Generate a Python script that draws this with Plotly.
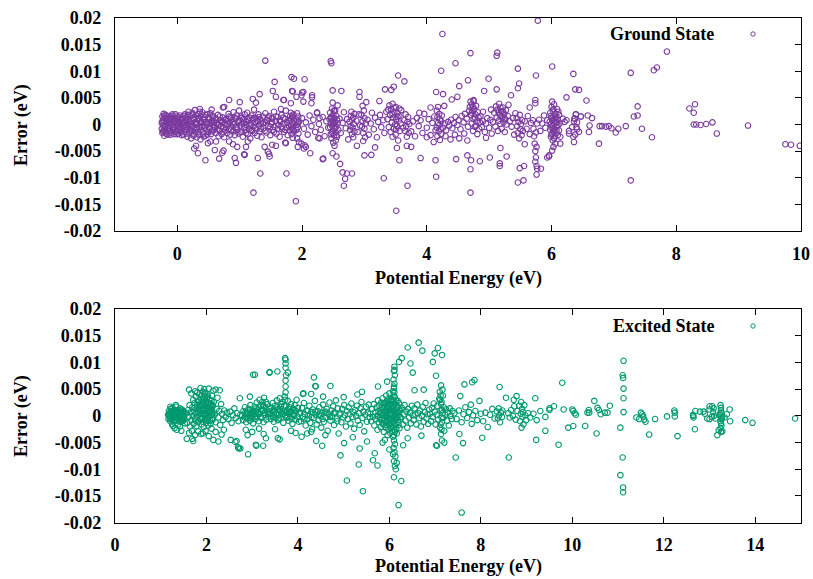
import plotly.graph_objects as go

# Each entry: (potential energy in eV, error in meV)

# ---------------- Ground state ----------------
ground_low_band = [
    (-0.25, 0.3), (-0.25, -0.8), (-0.24, 1.5), (-0.24, -1.6), (-0.23, 0.9), (-0.23, -0.2), (-0.22, 2.0),
    (-0.22, -1.1), (-0.21, 0.5), (-0.21, -2.1), (-0.2, 1.2), (-0.2, -0.5), (-0.19, 1.8), (-0.19, -1.4),
    (-0.18, 0.1), (-0.17, -0.9), (-0.17, 1.0), (-0.16, -1.9), (-0.15, 0.6), (-0.15, -0.3), (-0.14, 1.6),
    (-0.13, -1.2), (-0.12, 0.2), (-0.12, -0.7), (-0.11, 1.3), (-0.1, -1.6), (-0.09, 0.8), (-0.08, -0.1),
    (-0.08, 1.9), (-0.07, -1.0), (-0.06, 0.4), (-0.05, -1.8), (-0.05, 1.1), (-0.04, -0.5), (-0.03, 0.7),
    (-0.02, -1.3), (-0.01, 1.5), (0.0, 0.0), (0.0, -0.9), (0.01, 1.0), (0.02, -1.7), (0.03, 0.3),
    (0.04, -0.4), (0.04, 1.7), (0.05, -1.1), (0.06, 0.9), (0.07, -2.0), (0.08, 0.1), (0.08, 1.3),
    (0.09, -0.7), (0.1, 0.5), (0.11, -1.4), (0.12, 1.9), (0.12, -0.2), (0.13, 0.8), (0.14, -1.0),
    (0.15, 1.4), (0.16, -2.3), (0.16, 0.2), (0.17, -0.6), (0.18, 2.4), (0.18, 1.0), (0.19, -1.5),
    (0.2, 0.0), (0.21, 1.6), (0.21, -0.9), (0.22, -2.6), (0.23, 0.6), (0.24, 2.2), (0.24, -1.2),
    (0.25, -0.3), (0.26, 1.2), (0.27, -1.9), (0.28, 0.4), (0.28, 2.7), (0.29, -0.8), (0.3, 1.7),
    (0.31, -2.4), (0.32, 0.1), (0.33, 1.0), (0.33, -1.4), (0.34, 2.0), (0.35, -0.5), (0.36, 0.7),
    (0.37, -2.8), (0.37, 1.5), (0.38, -1.0), (0.39, 0.3), (0.4, 2.3), (0.41, -1.7), (0.42, 0.9),
    (0.43, -0.2), (0.44, 1.4), (0.45, -2.1), (0.46, 0.5), (0.47, -0.9), (0.48, 1.9), (0.49, -1.4),
    (0.5, 0.2), (0.51, 1.1), (0.52, -0.6), (0.53, 2.1), (0.54, -1.8), (0.55, 0.7), (0.56, -0.1),
    (0.57, 1.5), (0.58, -1.1), (0.59, 0.4),
    (0.6, -0.4), (0.61, 1.2), (0.62, -1.6), (0.63, 0.3), (0.64, -0.9), (0.65, 1.8), (0.66, -2.2),
    (0.67, 0.0), (0.68, -1.2), (0.69, 0.8), (0.7, -0.3), (0.71, -1.8), (0.72, 0.5), (0.73, 1.3),
    (0.74, -0.7), (0.75, -2.4), (0.76, 0.2), (0.77, -1.1), (0.78, 1.0), (0.79, -0.1), (0.8, -1.6),
    (0.81, 0.6), (0.82, 2.0), (0.83, -0.8), (0.84, 0.3), (0.85, -1.9), (0.86, 1.4), (0.87, -0.4),
    (0.88, 0.9), (0.89, -1.3), (0.9, 2.3), (0.91, 0.1), (0.92, -2.0), (0.93, 1.1), (0.94, -0.6),
    (0.95, 1.7), (0.96, -1.0), (0.97, 0.4), (0.98, -1.7), (0.99, 2.6), (1.0, 0.8), (1.01, -0.2),
    (1.02, 1.5), (1.03, -1.4), (1.04, 0.2), (1.05, -2.3), (1.06, 1.0), (1.07, -0.5), (1.08, 1.9),
    (1.09, -1.1), (1.1, 0.5), (1.11, -0.1), (1.12, 2.2), (1.13, -1.8), (1.14, 0.7), (1.15, -0.8),
    (1.16, 1.3), (1.17, -2.6), (1.18, 0.0), (1.19, 1.7), (1.2, -1.2), (1.21, 0.9), (1.22, -0.4),
    (1.23, 2.8), (1.24, -1.6), (1.25, 0.4), (1.26, 1.2), (1.27, -0.9), (1.28, -2.1), (1.29, 0.6),
    (1.3, 1.9), (1.31, -0.2), (1.32, -1.3), (1.33, 1.0), (1.34, 0.2), (1.35, -2.4), (1.37, 1.5),
    (1.38, -0.7), (1.4, 0.4), (1.41, 2.1), (1.43, -1.5), (1.44, 0.9), (1.46, -0.3), (1.47, 1.6),
    (1.49, -2.0), (1.5, 0.1), (1.52, 1.2), (1.53, -1.0), (1.55, 2.4), (1.56, -0.5), (1.58, 0.7),
    (1.59, -1.7), (1.61, 1.4), (1.62, -0.1), (1.64, -2.3), (1.65, 0.5), (1.67, 1.8), (1.68, -0.9),
    (1.7, 0.2), (1.71, -1.4), (1.73, 1.0), (1.74, 2.6), (1.76, -0.6), (1.77, -2.0), (1.79, 0.8),
    (1.8, -1.1), (1.81, 1.6), (1.82, -0.2), (1.82, 2.2), (1.83, -1.8), (1.84, 0.4), (1.84, -0.8),
    (1.85, 1.2), (1.85, -2.5), (1.86, 0.0), (1.86, 1.9), (1.87, -1.3), (1.87, 0.7), (1.91, 0.9),
    (1.91, -1.0), (1.92, 2.1), (1.92, -2.6), (1.93, 0.2), (1.93, -0.5), (1.94, 1.5), (1.94, -1.7),
    (1.95, -3.3), (1.95, 0.6),
]

ground_dense_core = [
    (-0.24, 0.6), (-0.23, -1.3), (-0.21, 1.6), (-0.2, -0.2), (-0.18, -1.7), (-0.17, 0.4), (-0.16, 1.3),
    (-0.14, -0.6), (-0.13, 0.9), (-0.11, -1.9), (-0.1, 0.1), (-0.09, 1.6), (-0.07, -0.4), (-0.06, 1.2),
    (-0.04, -1.4), (-0.03, 1.9), (-0.02, 0.2), (0.0, -1.8), (0.01, 0.6), (0.02, 1.4), (0.03, -0.7),
    (0.05, 0.0), (0.06, -1.5), (0.07, 1.1), (0.09, 0.3), (0.1, -1.9), (0.11, 1.6), (0.13, -0.4),
    (0.14, 0.9), (0.15, -1.7), (0.17, 1.8), (0.19, 0.6), (0.2, -1.1), (0.22, 0.2), (0.23, -0.5),
    (0.25, 1.9), (0.26, -2.1), (0.27, 0.9), (0.29, -1.5), (0.3, 0.0), (0.32, -0.7), (0.34, 1.2),
    (0.35, -1.9), (0.36, 2.4), (0.38, 0.5), (0.39, -0.4), (0.41, 1.0), (0.42, -2.3), (0.44, -0.6),
    (0.45, 1.8), (0.47, 0.1), (0.48, -1.9), (0.5, 1.3), (0.51, -0.8), (0.53, 0.4), (0.55, -1.3),
    (0.56, 1.6), (0.58, 0.7), (0.59, -0.6),
    (0.62, 0.9), (0.65, -0.1), (0.68, 1.5), (0.71, 0.3), (0.74, -1.4), (0.77, 0.8), (0.8, 0.2),
    (0.83, 1.5), (0.86, -1.0), (0.89, 0.4), (0.92, 1.3), (0.95, -0.4), (0.98, 0.6), (1.01, -1.5),
    (1.04, 1.3), (1.07, 0.2), (1.1, -1.6), (1.13, 1.0), (1.16, -0.2), (1.19, -1.0), (1.22, 1.2),
    (1.25, -0.6), (1.28, 0.8), (1.31, 1.4), (1.34, -0.8), (1.37, 0.2), (1.4, -1.2), (1.43, 0.8),
    (1.46, 1.3), (1.49, -0.5), (1.52, 0.5), (1.55, -1.4), (1.58, 1.5), (1.61, -0.8), (1.64, 0.7),
    (1.67, -0.4), (1.7, 1.3), (1.73, -1.0), (1.76, 0.4), (1.79, -0.3), (1.82, 0.9), (1.84, 1.5),
    (1.86, -1.0), (1.92, -0.1), (1.94, 0.4),
    (2.46, 1.3), (2.48, -1.5), (2.5, 0.4), (2.51, 2.6), (2.53, -0.6), (2.55, -2.0), (3.45, 1.9),
    (3.48, 3.1), (3.51, -0.9), (3.53, 1.4), (3.56, 3.0), (4.72, 2.2), (4.74, 3.3), (4.77, 1.3),
    (4.79, -0.2), (5.15, 2.3), (5.18, 3.2), (5.2, 1.6), (5.22, 2.4), (5.24, 0.9), (5.99, 1.6),
    (6.0, -1.9), (6.02, 0.9), (6.03, 2.9), (6.05, -2.2), (6.06, 1.3), (6.08, -1.1), (6.09, 0.4),
    (6.11, 2.4), (6.03, -0.8),
]

ground_streaks = [
    (2.44, 1.0), (2.45, -0.5), (2.45, 2.2), (2.46, -1.8), (2.46, 0.3), (2.47, 1.5), (2.47, -2.6),
    (2.48, -0.2), (2.48, 3.0), (2.49, 0.8), (2.49, -1.2), (2.5, 1.9), (2.5, -3.4), (2.51, 0.0),
    (2.51, -2.0), (2.52, 1.2), (2.52, -0.8), (2.53, 2.6), (2.53, 0.4), (2.54, -1.5), (2.54, -3.0),
    (2.55, 1.6), (2.55, -0.4), (2.56, 0.9), (2.56, -2.3), (2.57, 0.2), (2.57, 3.6), (2.52, -4.0),
    (2.49, 4.1), (2.58, -1.0),
    (2.76, 0.5), (2.77, -1.0), (2.78, 1.6), (2.78, -0.3), (2.79, 2.4), (2.8, -1.8), (2.8, 0.9),
    (2.81, -0.6), (2.82, 1.3), (2.82, -2.4), (2.83, 0.1), (2.84, 2.0), (2.84, -1.3),
    (2.95, 1.8), (2.96, -0.4), (2.97, 3.5), (2.97, 0.6), (2.98, -1.6), (2.99, 2.6), (3.0, -0.8),
    (3.0, 1.2), (3.01, -2.4), (3.02, 0.2), (3.03, 4.2), (2.98, -3.1),
    (3.37, 1.0), (3.38, 2.8), (3.39, -0.5), (3.4, 3.6), (3.41, 1.8), (3.42, -1.4), (3.43, 2.9),
    (3.44, 0.4), (3.45, 3.9), (3.45, -2.3), (3.46, 1.3), (3.47, -0.8), (3.48, 2.4), (3.49, 0.0),
    (3.5, 3.3), (3.5, -1.9), (3.51, 1.0), (3.52, -0.3), (3.53, 2.1), (3.54, -3.0), (3.55, 0.7),
    (3.56, 1.6), (3.57, -1.2), (3.58, 0.2), (3.59, 2.7), (3.52, -4.4),
    (3.64, 0.8), (3.65, -1.2), (3.66, 1.9), (3.67, -0.3), (3.68, -2.3), (3.69, 0.5), (3.7, 1.4),
    (3.71, -1.6), (3.72, 0.1),
    (4.16, 2.6), (4.16, -0.6), (4.17, 1.4), (4.17, -2.2), (4.18, 0.3), (4.18, 3.3), (4.19, -1.3),
    (4.2, 2.0), (4.2, -0.1), (4.21, -2.9), (4.21, 1.0), (4.22, -0.8), (4.23, 0.6), (4.23, -1.8),
    (4.24, 1.7),
    (4.26, -0.6), (4.29, 0.2), (4.31, -1.1), (4.34, 0.5), (4.36, -0.2), (4.39, 0.9), (4.41, -0.7),
    (4.44, 0.3), (4.46, 1.4), (4.49, -0.1), (4.51, 0.8), (4.54, -0.9), (4.56, 1.6), (4.59, 0.4),
    (4.61, 2.0), (4.64, 1.1), (4.66, -0.4), (4.68, 2.6),
    (4.69, 3.3), (4.7, 4.3), (4.71, 1.8), (4.72, 3.8), (4.72, 0.2), (4.73, 2.6), (4.74, -1.2),
    (4.75, 4.6), (4.75, 1.0), (4.76, 2.9), (4.77, -0.4), (4.78, 1.9), (4.79, 3.5), (4.8, 0.6),
    (4.81, -1.8), (4.82, 2.3), (4.83, 1.3), (4.84, -0.8), (4.85, 0.4), (4.86, 1.6),
    (4.88, -0.5), (4.9, 0.6), (4.93, -1.4), (4.95, 0.2), (4.97, 1.2), (5.0, -0.6), (5.02, 0.9),
    (5.04, -1.7),
    (5.06, 0.5), (5.08, 2.2), (5.1, -0.4), (5.11, 3.4), (5.12, 1.3), (5.13, 2.8), (5.14, -1.2),
    (5.15, 0.7), (5.16, 3.9), (5.17, 1.8), (5.18, 0.1), (5.19, 2.5), (5.2, -0.8), (5.21, 1.2),
    (5.22, 3.2), (5.23, 0.4), (5.24, 2.0), (5.25, -1.4), (5.26, 1.0), (5.27, 2.7), (5.28, 0.0),
    (5.3, 1.6), (5.31, 3.7), (5.33, 0.6),
    (5.44, 1.2), (5.45, -0.3), (5.46, -1.6), (5.47, 0.5), (5.48, -2.6), (5.49, 1.8), (5.5, -0.9),
    (5.51, 0.1), (5.52, -2.0), (5.53, 0.8), (5.54, -1.2),
    (5.7, 0.8), (5.71, -0.8), (5.72, -2.2), (5.73, -3.6), (5.74, -5.0), (5.75, -6.2), (5.75, -1.5),
    (5.76, -4.2), (5.77, 0.2), (5.74, -7.0), (5.76, -7.8),
    (5.97, 0.5), (5.98, -1.0), (5.98, 2.2), (5.99, -2.3), (5.99, 0.0), (6.0, 3.3), (6.0, 1.2),
    (6.0, -0.6), (6.01, 4.3), (6.01, -1.7), (6.01, 0.7), (6.02, 2.6), (6.02, -3.0), (6.02, -0.2),
    (6.03, 1.6), (6.03, -1.3), (6.04, 3.8), (6.04, 0.3), (6.04, -2.6), (6.05, 1.0), (6.05, -0.9),
    (6.06, 2.0), (6.06, -3.6), (6.07, 0.5), (6.07, -1.6), (6.08, 1.4), (6.08, -0.4), (6.09, 2.9),
    (6.1, -2.0), (6.1, 0.9), (6.11, -0.1), (6.12, 1.8), (6.12, -1.1), (6.13, 0.2),
    (5.83, -8.3), (5.93, -6.2), (5.96, -5.8), (6.01, -4.9), (6.03, -4.2), (6.14, -2.3), (6.14, -3.6),
    (6.18, 1.1), (6.21, 0.5), (6.24, 0.8), (6.28, -1.2), (6.28, -1.7), (6.35, -2.3), (6.36, -3.3),
    (6.37, 1.1), (6.39, 1.9), (6.4, -0.5), (6.41, 0.4), (6.44, -1.4), (6.47, 1.5), (6.33, -0.5),
    (6.36, 0.6), (6.41, -0.9), (6.38, -1.9),
]

ground_scatter = [
    (2.0, 1.2), (2.03, -0.8), (2.06, 0.4), (2.09, -1.9), (2.12, 1.7), (2.15, -0.3), (2.18, 0.9),
    (2.21, -1.4), (2.24, 2.1), (2.27, 0.1), (2.3, -1.0), (2.33, 1.4), (2.36, -2.2), (2.39, 0.6),
    (2.42, -0.6), (2.6, 1.1), (2.62, -1.6), (2.65, 0.3), (2.67, 2.3), (2.7, -0.7), (2.72, 1.0),
    (2.74, -2.8), (2.87, 0.7), (2.89, -1.4), (2.91, 1.9), (2.93, -0.2), (3.05, 0.9), (3.07, -1.9),
    (3.1, 0.2), (3.12, 2.2), (3.15, -0.9), (3.17, 1.3), (3.2, -2.4), (3.22, 0.5), (3.25, 1.8),
    (3.27, -0.5), (3.3, 0.8), (3.32, -1.6), (3.35, 2.4), (3.62, -0.6), (3.75, -1.3), (3.78, 0.6),
    (3.81, -2.2), (3.84, 1.2), (3.87, -0.3), (3.9, 0.8), (3.93, -1.6), (3.96, 2.0), (4.0, -0.6),
    (4.03, 1.0), (4.06, -2.0), (4.09, 0.3), (4.12, 1.5), (4.14, -1.1), (4.3, -2.2), (4.38, -2.8),
    (4.45, -1.9), (4.52, -2.6), (4.6, -1.7), (4.65, -3.0), (4.9, 2.4), (4.95, -2.5), (5.03, 2.8),
    (5.36, -0.4), (5.38, 1.2), (5.4, -1.9), (5.42, 2.1), (5.57, 0.6), (5.6, -0.8), (5.62, 1.6),
    (5.65, -1.8), (5.67, 0.3), (5.8, 0.9), (5.82, -1.2), (5.85, 0.2), (5.88, 1.7), (5.9, -0.6),
    (5.93, 0.8),
]

ground_outliers = [
    (1.41, 12.0), (0.83, 4.6), (1.0, 4.2), (1.21, 4.8), (1.32, 5.7), (1.26, 4.1), (1.53, 6.3),
    (1.56, 8.0), (1.58, 5.2), (1.71, 4.6), (1.83, 8.9), (1.87, 8.6), (1.85, 6.2), (0.73, 3.2),
    (0.55, 2.8), (0.36, 2.9), (0.75, 3.3), (1.66, 2.9), (1.82, 4.0),
    (0.3, -4.0), (0.33, -5.4), (0.45, -6.7), (0.27, -4.5), (0.67, -6.4), (0.72, -5.3), (0.92, -6.3),
    (0.94, -7.2), (1.08, -5.7), (1.33, -9.2), (1.22, -12.8), (1.75, -9.2), (1.9, -14.4), (1.29, -6.3),
    (1.47, -5.5), (1.48, -6.0), (1.58, -4.0), (1.73, -3.4), (0.53, -3.2), (0.89, -3.7), (1.1, -4.2),
    (0.49, -3.5), (0.6, -4.8), (0.62, -3.2), (0.83, -3.2), (0.96, -4.2), (1.13, -3.2), (1.4, -4.2),
    (1.52, -3.8), (1.45, -5.1), (1.07, -5.6), (0.74, -4.9), (1.93, -4.2), (1.99, -3.6), (2.06, -4.2),
    (5.78, 19.5), (4.25, 17.0), (4.7, 13.4), (5.13, 13.5), (5.12, 12.9), (4.46, 11.5), (2.46, 11.9),
    (2.47, 11.5), (4.23, 10.1), (5.46, 10.5), (5.75, 9.2), (3.54, 9.2), (2.04, 8.5), (3.64, 8.1),
    (4.66, 8.3), (4.99, 8.6), (5.48, 7.7), (5.46, 6.8), (4.52, 7.2), (3.47, 7.1), (3.33, 6.6),
    (3.43, 6.5), (2.49, 6.4), (2.63, 6.3), (2.92, 6.1), (4.15, 6.1), (4.26, 5.7), (4.92, 6.3),
    (5.12, 6.6), (1.84, 6.3), (2.02, 6.1), (2.16, 5.5), (2.16, 5.1), (1.7, 4.6), (1.91, 5.2),
    (2.92, 5.2), (3.24, 4.4), (4.4, 4.7), (4.49, 5.2), (5.35, 5.5), (5.65, 3.2), (5.74, 4.6),
    (5.74, 4.0), (4.75, 4.4), (3.88, 2.2), (4.06, 3.2), (4.28, 3.5), (2.0, 6.0), (1.99, 5.5),
    (2.02, 4.3), (2.15, 4.0), (2.24, 2.3), (2.28, 1.2),
    (3.51, -16.2), (4.7, -12.8), (3.69, -11.5), (4.15, -9.8), (2.67, -11.5), (2.69, -10.2),
    (2.65, -9.0), (2.72, -9.2), (2.8, -9.2), (5.46, -10.9), (5.55, -10.5), (5.76, -9.4), (5.77, -8.3),
    (5.49, -8.2), (5.56, -7.8), (4.7, -8.4), (5.17, -7.8), (5.17, -7.3), (5.28, -6.0), (4.65, -5.8),
    (4.71, -6.7), (4.85, -6.9), (5.01, -6.2), (4.47, -6.5), (4.14, -6.7), (3.9, -6.3), (3.31, -10.1),
    (3.11, -5.7), (3.0, -5.8), (3.56, -6.7), (2.55, -6.0), (2.34, -6.4), (2.61, -7.4), (2.13, -5.4),
    (5.96, -6.0), (5.18, -4.4), (5.57, -3.7), (3.75, -4.2), (3.68, -4.0), (3.17, -4.3), (2.88, -4.0),
    (4.0, -2.4), (4.11, -3.3), (2.26, -2.5), (1.74, -3.5), (2.03, -4.5), (2.04, -3.9), (2.33, -6.5),
    (2.49, -5.4), (2.28, -2.6),
    (7.85, 13.7), (7.69, 10.7), (7.64, 10.2), (7.27, 9.7), (6.01, 10.9), (6.35, 9.5), (6.38, 6.6),
    (6.44, 6.5), (6.24, 5.1), (6.56, 4.5), (7.38, 3.4), (8.21, 3.0), (8.3, 3.8), (8.28, 2.2),
    (7.32, 1.5), (7.38, 1.7), (6.39, 1.9), (6.47, 1.5), (6.58, 1.7), (6.65, 1.2), (6.37, 1.1),
    (6.61, -0.2), (6.77, -0.3), (6.81, -0.3), (6.87, -0.4), (6.92, -0.3), (6.96, -0.7), (7.07, -0.8),
    (7.03, -1.5), (7.19, -0.3), (7.45, -0.8), (6.6, -1.4), (7.61, -2.4), (6.76, -3.6), (7.27, -10.5),
    (8.28, 0.0), (8.32, 0.0), (8.39, -0.1), (8.48, 0.1), (8.58, 0.4), (8.65, -1.7), (9.15, -0.2),
    (9.75, -3.7), (9.84, -3.8), (9.98, -4.0),
]

# ---------------- Excited state ----------------
excited_low_band = [
    (1.16, 0.2), (1.17, -0.6), (1.18, 0.9), (1.19, -0.1), (1.2, 0.5), (1.21, -1.0), (1.22, 1.3),
    (1.23, 0.0), (1.24, -0.5), (1.25, 0.8), (1.26, 1.5), (1.27, -0.3), (1.28, 0.4), (1.29, -1.2),
    (1.3, 1.0), (1.31, -0.1), (1.32, 0.6), (1.33, -0.8), (1.34, 1.7), (1.35, 0.2), (1.36, -0.4),
    (1.37, 1.1), (1.38, -1.6), (1.39, 0.3), (1.4, 0.8), (1.41, -0.6), (1.42, 1.4), (1.43, 0.0),
    (1.44, -1.1), (1.45, 0.6), (1.46, 1.2), (1.47, -0.3), (1.48, 0.3), (1.49, -0.9), (1.5, 0.9),
    (1.51, -0.1), (1.52, 0.5), (1.53, -1.4), (1.3, -2.3), (1.27, -1.9), (1.35, -2.6), (1.42, -2.0),
    (1.45, -2.8), (1.25, -1.6), (1.21, 1.7), (1.33, 2.0),
    (1.57, 0.5), (1.58, -1.3), (1.6, 1.1), (1.61, -0.2), (1.63, 2.0), (1.64, -2.0), (1.66, 0.7),
    (1.67, -0.8), (1.69, 1.6), (1.7, 0.0), (1.71, 3.0), (1.72, -1.5), (1.73, 1.0), (1.74, 2.4),
    (1.75, -0.5), (1.76, 0.4), (1.77, 3.6), (1.78, -1.9), (1.79, 1.5), (1.8, -0.2), (1.81, 2.7),
    (1.82, 0.8), (1.83, -1.1), (1.84, 4.0), (1.85, 1.9), (1.86, -0.6), (1.87, 0.3), (1.88, 3.2),
    (1.89, -1.6), (1.9, 2.2), (1.9, 1.0), (1.91, -0.3), (1.92, 4.5), (1.92, 0.5), (1.93, 2.9),
    (1.94, -2.1), (1.95, 1.4), (1.96, -0.8), (1.97, 3.7), (1.97, 0.1), (1.98, 2.0), (1.99, -1.3),
    (2.0, 1.2), (2.01, 3.3), (2.01, -0.4), (2.02, 0.7), (2.03, 2.5), (2.04, -1.8), (2.05, 1.6),
    (2.06, 0.0), (2.07, 3.0), (2.08, -0.9), (2.09, 1.0), (2.1, 2.1), (2.11, -2.4), (2.12, 0.4),
    (2.13, 1.7), (2.14, -0.5), (2.16, 2.6), (2.18, 0.2), (2.2, -1.2), (2.22, 1.3), (2.24, 3.4),
    (2.26, -0.3), (2.28, 0.9), (2.3, -1.7), (2.32, 2.2), (2.34, 0.4), (2.36, -0.8), (2.39, 1.0),
    (2.42, -0.2), (2.45, 0.6),
    (1.62, 4.9), (1.67, 4.2), (1.75, 4.6), (1.87, 5.2), (1.95, 5.0), (2.05, 5.1), (2.15, 4.7),
    (2.2, 4.9), (2.29, 4.8), (2.12, 3.8), (1.8, 4.4),
    (1.62, -3.2), (1.68, -2.8), (1.71, -4.7), (1.57, -4.3), (1.75, -3.6), (1.82, -2.9), (1.88, -3.4),
    (1.98, -2.8), (2.05, -3.8), (2.15, -4.5), (2.2, -3.0), (2.26, -4.8), (2.33, -3.5), (2.38, -2.6),
    (1.69, -4.3), (1.92, -3.3),
    (2.48, -0.6), (2.52, 0.8), (2.55, -1.3), (2.58, 0.1), (2.61, 1.4), (2.64, -0.4), (2.67, 0.5),
    (2.7, -1.0), (2.73, 3.3), (2.74, 0.2),
    (2.53, -4.5), (2.66, -4.7), (2.63, -4.9), (2.71, -6.1), (2.74, -6.1), (2.69, -5.9), (2.91, -7.2),
    (2.95, 3.6),
]

excited_dense_core = [
    (1.18, 0.4), (1.2, -0.4), (1.22, 0.7), (1.24, 0.3), (1.26, -0.8), (1.28, 1.1), (1.3, 0.2),
    (1.32, -0.4), (1.34, 0.9), (1.36, 0.6), (1.38, 0.0), (1.4, -0.9), (1.42, 0.4), (1.44, 1.0),
    (1.46, -0.6), (1.48, 0.8), (1.5, 0.2), (1.52, -0.6),
    (1.74, 1.5), (1.76, -0.9), (1.78, 0.6), (1.8, 2.0), (1.81, -1.2), (1.83, 1.2), (1.84, 2.9),
    (1.86, 0.4), (1.87, 1.8), (1.88, -0.6), (1.89, 2.6), (1.91, 1.3), (1.92, -1.1), (1.93, 2.2),
    (1.94, 0.3), (1.95, 3.3), (1.96, 1.0), (1.98, -0.4), (1.99, 2.5), (2.0, 0.3), (2.01, 1.8),
    (2.02, -0.9), (2.03, 3.6), (2.04, 1.1), (2.05, -0.3), (2.06, 2.4), (2.07, 0.7), (2.08, 1.6),
    (2.09, -1.4), (2.1, 0.2), (2.11, 2.8), (2.12, 1.2), (2.13, -0.8), (2.14, 2.0), (2.15, 0.5),
    (1.9, 3.9), (1.97, 4.3), (2.02, 4.0),
    (2.85, 0.6), (2.88, -0.3), (2.91, 0.4), (2.94, 1.0), (2.97, -0.4), (3.0, 0.3), (3.03, 0.8),
    (3.06, -0.2), (3.09, 1.4), (3.12, 0.5), (3.15, 1.7), (3.18, -0.2), (3.21, 1.2), (3.24, 2.0),
    (3.27, 0.6), (3.3, 2.6), (3.33, 1.0), (3.36, 0.4),
    (3.43, 0.9), (3.46, -0.3), (3.49, 1.2), (3.52, 0.2), (3.55, 1.6), (3.58, -0.5), (3.61, 1.0),
    (3.64, 2.2), (3.67, 0.4), (3.7, 1.9), (3.72, 3.0), (3.74, 0.6), (3.77, -0.2), (3.8, 1.3),
    (3.83, 0.8), (3.86, -0.6), (3.89, 0.3), (3.92, 1.1),
    (4.14, -0.6), (4.22, 0.9), (4.3, -0.2), (4.38, 0.8), (4.46, 0.3), (4.54, -0.6), (4.62, 0.6),
    (4.7, -0.2), (4.78, 0.5), (4.86, -1.0),
    (5.8, -0.7), (5.82, 0.6), (5.84, 1.7), (5.85, -1.4), (5.87, 0.3), (5.88, 2.4), (5.89, -0.9),
    (5.91, 1.6), (5.92, 0.1), (5.93, -1.7), (5.94, 2.7), (5.95, 0.5), (5.96, -0.9), (5.97, 1.4),
    (5.98, 3.2), (5.99, -1.6), (6.0, 1.0), (6.01, -0.6), (6.02, 2.8), (6.03, -2.3), (6.04, 1.3),
    (6.05, 0.4), (6.06, -1.3), (6.07, 1.9), (6.08, -0.3), (6.09, 3.0), (6.1, -1.8), (6.11, 0.8),
    (6.12, 2.3), (6.13, -0.5), (6.14, 0.3), (6.15, -2.4), (6.16, 1.6), (6.17, -0.4), (6.18, 2.8),
    (6.19, 0.6), (6.2, -1.7), (6.22, 1.2), (6.24, -0.2), (6.09, 3.8), (6.11, 4.4), (6.12, -3.0),
    (6.1, -3.6), (6.06, -2.8),
    (7.11, 3.0), (7.12, -1.6), (7.13, 2.2), (7.14, -2.6), (7.15, 1.1), (7.16, 4.9), (7.14, -0.3),
    (7.12, 3.8),
]

excited_mid_band = [
    (2.78, 0.0), (2.8, -0.8), (2.81, 0.9), (2.83, -0.3), (2.84, 1.6), (2.86, 0.3), (2.87, -1.2),
    (2.89, 0.7), (2.9, -0.5), (2.92, 1.3), (2.93, 0.1), (2.95, -0.9), (2.96, 2.0), (2.98, 0.5),
    (2.99, -0.2), (3.01, 1.0), (3.02, -1.4), (3.04, 0.2), (3.05, 1.7), (3.07, -0.6), (3.08, 0.8),
    (3.1, 2.5), (3.11, -0.1), (3.13, 1.2), (3.14, -1.0), (3.16, 3.0), (3.17, 0.4), (3.19, 1.9),
    (3.2, -0.4), (3.22, 2.6), (3.23, 0.9), (3.25, -1.2), (3.26, 3.4), (3.28, 0.2), (3.29, 1.5),
    (3.31, -0.7), (3.32, 2.2), (3.34, 0.6), (3.35, -0.2), (3.37, 1.3),
    (3.09, -5.6), (3.08, -5.4), (3.24, -5.6), (3.3, -4.2), (2.86, -2.6), (3.0, -3.0), (3.15, -2.4),
    (3.25, -3.4), (2.9, -3.6), (3.02, 7.7), (3.06, 7.7), (3.38, 8.1), (3.38, 8.2),
    (3.39, 0.4), (3.41, -0.6), (3.42, 1.5), (3.44, 0.0), (3.45, 2.4), (3.47, -1.1), (3.48, 0.8),
    (3.5, 1.9), (3.51, -0.3), (3.53, 0.5), (3.54, 2.9), (3.56, -0.8), (3.57, 1.2), (3.59, 0.2),
    (3.6, 3.3), (3.62, -0.5), (3.63, 1.7), (3.65, 0.6), (3.66, 2.6), (3.68, -1.3), (3.69, 0.9),
    (3.71, 3.6), (3.72, 0.1), (3.73, 4.4), (3.73, 5.5), (3.73, 6.6), (3.74, 1.8), (3.74, 7.6),
    (3.73, 9.0), (3.73, 9.8), (3.73, 10.5), (3.72, 10.8), (3.75, -0.4), (3.76, 1.1), (3.78, 2.8),
    (3.79, -0.9), (3.81, 0.5), (3.82, 1.6), (3.84, -0.2), (3.85, 2.2), (3.87, 0.8), (3.88, -1.5),
    (3.9, 1.3), (3.91, 0.0), (3.93, 2.0), (3.94, -0.7), (3.96, 0.9), (3.97, 3.0), (3.99, -0.1),
    (4.0, 1.5), (4.02, -1.1), (4.03, 0.4), (3.55, 8.3), (3.78, 8.1), (3.56, -4.2), (3.6, -4.4),
    (3.5, -2.5), (3.85, -2.8), (3.95, -3.2),
    (4.05, 0.6), (4.07, -1.0), (4.09, 1.5), (4.11, -0.2), (4.13, 2.4), (4.15, 0.3), (4.17, -1.8),
    (4.19, 1.0), (4.21, -0.6), (4.23, 0.1), (4.25, 1.9), (4.27, -1.3), (4.29, 0.7), (4.31, -2.5),
    (4.33, 1.2), (4.35, -0.4), (4.37, 2.8), (4.39, 0.2), (4.41, -1.6), (4.43, 0.9), (4.45, -0.8),
    (4.47, 1.6), (4.49, 0.0), (4.51, -2.2), (4.53, 0.5), (4.55, 2.1), (4.57, -1.1), (4.59, 0.8),
    (4.61, -0.3), (4.63, 1.3), (4.65, -2.8), (4.67, 0.3), (4.69, 2.5), (4.71, -0.9), (4.73, 1.0),
    (4.75, -0.1), (4.77, 1.8), (4.79, -1.7), (4.81, 0.6), (4.83, 2.9), (4.85, -0.5), (4.87, 1.4),
    (4.89, -3.3), (4.91, 0.2),
    (4.12, 4.2), (4.29, 4.1), (4.35, 7.2), (4.38, 5.6), (4.71, 5.6), (4.39, 5.5), (4.11, 4.1),
    (4.55, 3.6), (4.08, -3.9), (4.4, -4.7), (4.53, -5.6), (4.29, -3.0), (4.93, -7.4), (4.6, -3.6),
    (4.2, -3.3),
    (4.93, 0.5), (4.95, -1.2), (4.97, 1.3), (4.99, -0.3), (5.01, 2.0), (5.03, 0.1), (5.05, -2.0),
    (5.07, 0.9), (5.09, -0.6), (5.11, 1.6), (5.13, 0.3), (5.15, -1.4), (5.17, 2.3), (5.19, -0.2),
    (5.21, 0.7), (5.23, -2.4), (5.25, 1.1), (5.27, 0.0), (5.29, 1.9), (5.31, -0.9), (5.33, 0.5),
    (5.35, -1.7), (5.37, 1.4), (5.39, 2.6), (5.41, -0.4), (5.43, 0.8), (5.45, -2.9), (5.47, 0.2),
    (5.49, 1.7), (5.51, -1.1), (5.53, 0.6), (5.55, 2.1), (5.57, -0.3),
    (5.07, -12.1), (5.42, -14.1), (5.33, -9.1), (5.35, -6.1), (5.51, -4.8), (5.01, -5.1),
    (5.2, -4.0), (5.3, 4.0), (5.0, 3.5), (5.4, 4.5),
]

excited_peak_band = [
    (5.58, 0.4), (5.6, -1.0), (5.62, 1.3), (5.64, -0.2), (5.66, 2.2), (5.67, -1.8), (5.69, 0.7),
    (5.7, -0.6), (5.72, 1.6), (5.73, 0.0), (5.74, -2.6), (5.75, 2.9), (5.76, 0.9), (5.77, -1.2),
    (5.78, 1.9), (5.79, -0.3), (5.8, 0.4), (5.81, -2.1), (5.82, 2.5), (5.83, 1.1), (5.84, -0.8),
    (5.85, 3.3), (5.86, 0.2), (5.86, -1.6), (5.87, 1.5), (5.88, -3.0), (5.89, 0.6), (5.9, 2.3),
    (5.9, -0.5), (5.91, 1.0), (5.92, -2.2), (5.93, 3.8), (5.93, 0.0), (5.94, -1.1), (5.95, 1.8),
    (5.96, -3.6), (5.96, 0.8), (5.97, 2.7), (5.98, -0.4), (5.98, -2.5), (5.99, 1.3), (6.0, 0.3),
    (6.0, 4.2), (6.01, -1.4), (6.02, 2.1), (6.02, -3.2), (6.03, 0.6), (6.04, -0.7), (6.04, 3.1),
    (6.05, 1.6), (6.05, -2.0), (6.06, 0.1), (6.07, 2.6), (6.07, -1.0), (6.08, 4.6), (6.08, -3.9),
    (6.09, 0.9), (6.1, -0.2), (6.1, 1.9), (6.11, -2.7), (6.12, 3.5), (6.12, 0.4), (6.13, -1.5),
    (6.14, 1.2), (6.15, -0.6), (6.15, 2.8), (6.16, -3.3), (6.17, 0.7), (6.18, 1.7), (6.19, -1.1),
    (6.2, 0.0), (6.21, 2.4), (6.22, -2.3), (6.23, 0.9), (6.25, -0.5), (6.27, 1.5), (6.29, -1.6),
    (6.31, 0.3), (6.33, 2.0), (6.35, -0.9), (6.37, 0.8), (6.39, -2.2), (6.41, 1.3), (6.43, -0.3),
    (6.45, 0.6), (6.47, -1.4), (6.49, 1.9), (6.51, 0.1),
    (6.1, 5.2), (6.11, 6.0), (6.09, 6.8), (6.12, 7.6), (6.1, 8.4), (6.11, 9.2), (6.1, -4.6),
    (6.12, -5.3), (6.09, -6.0), (6.11, -6.8), (6.13, -7.6), (6.1, -8.5), (6.12, -9.4), (6.14, -10.0),
    (6.08, -7.2), (6.16, -8.8),
    (6.64, 13.7), (6.4, 12.8), (6.72, 12.2), (6.27, 10.8), (6.21, 10.1), (6.46, 9.8), (6.11, 8.6),
    (6.51, 8.1), (5.95, 6.4), (5.75, 5.5), (6.1, 5.5), (6.55, 4.8), (6.75, 4.9), (6.2, -16.7),
    (6.1, -11.5), (6.26, -12.2), (5.74, -9.3), (5.68, -7.0), (5.64, -8.3), (6.7, -3.7), (5.85, -5.0),
    (6.3, -5.5), (6.0, -6.3), (5.9, -4.5), (6.4, -4.2),
    (6.53, -0.8), (6.55, 1.4), (6.57, 0.2), (6.59, -1.6), (6.61, 2.1), (6.63, 0.5), (6.65, -0.4),
    (6.67, 1.0), (6.69, -2.0), (6.71, 0.0), (6.73, 1.7), (6.75, -1.1), (6.77, 0.7), (6.79, 2.4),
    (6.81, -0.5), (6.83, 0.3), (6.85, -1.5), (6.87, 1.2),
    (6.89, 0.4), (6.91, -1.0), (6.93, 1.5), (6.95, -0.2), (6.97, 2.3), (6.99, 0.8), (7.01, -1.6),
    (7.03, 0.2), (7.05, 1.9), (7.07, -0.7), (7.09, 3.2), (7.1, 4.5), (7.11, -2.2), (7.12, 1.0),
    (7.13, 5.7), (7.13, -3.4), (7.14, 2.6), (7.15, -1.2), (7.15, -4.6), (7.16, 0.5), (7.17, 3.8),
    (7.18, -0.4), (7.19, 1.6), (7.2, -2.8), (7.22, 0.2), (7.24, 1.2), (7.26, -0.9), (7.28, 0.6),
    (7.3, -1.8), (7.32, 1.4), (7.34, 0.0), (7.36, -0.6), (7.38, 0.9),
    (7.06, 12.7), (6.99, 11.7), (7.15, 11.4), (6.95, 10.1), (7.02, 7.5), (7.02, -5.5), (7.04, -5.6),
    (7.2, -5.0),
]

excited_high_band = [
    (7.42, 0.5), (7.47, -0.6), (7.52, 1.0), (7.55, 3.7), (7.58, -1.2), (7.62, 0.3), (7.66, 1.6),
    (7.7, -0.4), (7.74, 0.7), (7.78, 2.1), (7.8, -1.5), (7.83, 0.1), (7.88, 0.9), (7.92, -0.8),
    (7.97, 2.8), (8.0, 0.4), (8.05, -1.0), (8.1, 0.6), (8.15, -2.1), (8.2, 0.2), (8.25, 1.3),
    (8.3, -0.5),
    (7.86, 6.7), (7.81, 6.3), (7.64, 5.9), (7.58, -18.1), (7.45, -7.8), (7.61, -5.1), (7.53, -3.4),
    (8.03, -4.1), (8.41, 5.4),
    (8.35, 0.8), (8.37, -0.5), (8.39, 1.4), (8.4, 0.1), (8.42, -1.2), (8.44, 0.6), (8.46, -0.2),
    (8.47, 1.0),
    (8.6, 0.5), (8.63, -0.3), (8.66, 1.1), (8.7, 0.0), (8.73, 1.8), (8.76, -0.7), (8.8, 0.9),
    (8.84, 1.9), (8.86, -1.0), (8.87, 0.4), (8.88, 2.6), (8.89, -2.2), (8.9, 1.3), (8.91, -0.2),
    (8.92, 0.7), (8.93, -1.6), (8.95, 2.0), (8.97, 0.1), (8.99, -0.8), (9.03, 0.5), (9.08, -0.3),
    (8.55, 3.4), (8.78, 3.7), (8.61, -7.8), (9.19, 3.3), (9.21, -4.5), (9.5, 1.1), (9.7, -5.4),
    (8.72, 3.0),
    (9.15, 0.4), (9.22, -0.8), (9.3, 0.9), (9.41, -0.2), (9.41, -2.8), (9.5, 1.4), (9.6, 1.8),
    (9.78, 6.2), (9.81, 1.2), (9.91, -2.2), (10.0, 1.2), (10.02, 0.9), (10.05, 0.5), (10.08, 0.2),
    (10.02, -1.9), (10.28, -1.9), (10.33, 0.6), (10.36, 1.1), (10.37, 0.6), (10.48, 2.8),
    (10.55, 1.5), (10.58, 1.1), (10.62, 0.3), (10.53, -3.3), (10.71, 0.6), (10.77, 0.6),
    (10.82, 1.9), (11.05, -2.2), (11.12, 10.3), (11.1, 7.6), (11.11, 7.1), (11.12, 5.1),
    (11.12, 3.3), (11.12, 0.7), (11.1, -7.8), (11.05, -11.1), (11.11, -13.4), (11.11, -14.3),
    (11.4, -0.3), (11.46, -0.6), (11.5, 0.6), (11.53, 0.3), (11.55, -0.1), (11.57, -0.7),
    (11.6, -1.1), (11.68, -3.5), (11.81, -0.6), (12.07, -0.1), (12.23, 1.0), (12.24, 0.6),
    (12.24, -0.1), (12.3, -3.8), (12.64, 0.0), (12.64, 0.2), (12.65, -0.3), (12.69, 0.9),
    (12.68, -2.5), (12.79, 0.8), (12.87, 0.8), (12.9, 0.4), (13.0, 1.8), (13.06, 1.8), (13.09, 1.4),
    (13.0, 1.2), (13.08, 0.7),
    (13.24, 2.0), (13.25, 1.5), (13.25, 1.0), (13.26, 0.6), (13.24, 0.2), (13.25, -0.2),
    (13.26, -0.6), (13.24, -1.0), (13.25, -1.4), (13.26, -1.8), (13.24, -2.3), (13.25, -3.0),
    (13.23, 0.4), (13.27, -0.4),
    (13.1, 0.0), (13.13, -0.5), (13.0, -0.6), (12.95, -0.5), (13.05, -0.2), (13.2, -2.7),
    (13.28, -2.9), (13.17, -3.6), (13.44, 1.2), (13.45, -1.0), (13.38, 0.3), (13.33, -0.3),
    (13.78, -0.8), (13.94, -1.3), (14.87, -0.5),
]

Y_TICKS = [0.02, 0.015, 0.01, 0.005, 0.0, -0.005, -0.01, -0.015, -0.02]
Y_TICK_TEXT = ["0.02", "0.015", "0.01", "0.005", "0", "-0.005", "-0.01", "-0.015", "-0.02"]
GROUND_X_TICKS = [0, 2, 4, 6, 8, 10]
EXCITED_X_TICKS = [0, 2, 4, 6, 8, 10, 12, 14]

PURPLE = "#7a3a9e"
GREEN = "#00996e"
W, H = 813, 579


def split(*groups):
    energies, errors = [], []
    for group in groups:
        for energy, err_mev in group:
            energies.append(energy)
            errors.append(err_mev / 1000.0)  # meV -> eV
    return energies, errors


def px(x):
    return x / W


def py(y):
    return 1 - y / H


FONT = dict(family="Liberation Serif, Times New Roman, serif", size=18, color="black", weight="bold")

gx, gy = split(ground_low_band, ground_dense_core, ground_streaks, ground_scatter, ground_outliers)
ex, ey = split(excited_low_band, excited_dense_core, excited_mid_band, excited_peak_band,
               excited_high_band)

fig = go.Figure()
fig.add_trace(go.Scatter(
    x=gx, y=gy, mode="markers", xaxis="x", yaxis="y", showlegend=False,
    marker=dict(symbol="circle-open", size=5.5, color=PURPLE, line=dict(width=1.1, color=PURPLE)),
))
fig.add_trace(go.Scatter(
    x=ex, y=ey, mode="markers", xaxis="x2", yaxis="y2", showlegend=False,
    marker=dict(symbol="circle-open", size=5.5, color=GREEN, line=dict(width=1.1, color=GREEN)),
))
# empty traces carrying the right-hand tick axes
fig.add_trace(go.Scatter(x=[], y=[], xaxis="x", yaxis="y3", showlegend=False))
fig.add_trace(go.Scatter(x=[], y=[], xaxis="x2", yaxis="y4", showlegend=False))

X_DOMAIN = [px(115), px(801)]
TOP_DOMAIN = [py(231), py(18)]
BOTTOM_DOMAIN = [py(522.7), py(309)]

x_common = dict(
    showline=True, linecolor="black", linewidth=1.3, mirror="ticks",
    ticks="inside", ticklen=6, tickwidth=1.2, tickcolor="black",
    showgrid=False, zeroline=False, tickfont=FONT, ticklabelstandoff=6,
    domain=X_DOMAIN, automargin=False,
)
y_common = dict(
    showline=True, linecolor="black", linewidth=1.3, mirror=True, ticks="",
    showgrid=False, zeroline=False, tickfont=FONT, range=[-0.02, 0.02],
    tickvals=Y_TICKS, ticktext=Y_TICK_TEXT, ticklabelstandoff=9, automargin=False,
)
y_right = dict(
    side="right", range=[-0.02, 0.02], tickvals=Y_TICKS, ticks="inside", ticklen=6,
    tickwidth=1.2, tickcolor="black", showticklabels=False, showline=False,
    showgrid=False, zeroline=False, automargin=False,
)

fig.update_layout(
    template="none",
    width=W, height=H,
    margin=dict(l=0, r=0, t=0, b=0, pad=0, autoexpand=False),
    paper_bgcolor="white", plot_bgcolor="white",
    xaxis=dict(x_common, range=[-1, 10], tickvals=GROUND_X_TICKS, anchor="y"),
    yaxis=dict(y_common, domain=TOP_DOMAIN, anchor="x"),
    xaxis2=dict(x_common, range=[0, 15], tickvals=EXCITED_X_TICKS, anchor="y2"),
    yaxis2=dict(y_common, domain=BOTTOM_DOMAIN, anchor="x2"),
    yaxis3=dict(y_right, overlaying="y", anchor="x"),
    yaxis4=dict(y_right, overlaying="y2", anchor="x2"),
)

annotations = [
    dict(text="Error (eV)", x=px(21), y=py(125), textangle=-90),
    dict(text="Error (eV)", x=px(21), y=py(416), textangle=-90),
    dict(text="Potential Energy (eV)", x=px(458), y=py(278)),
    dict(text="Potential Energy (eV)", x=px(458), y=py(566)),
    dict(text="Ground State", x=px(716), y=py(34), xanchor="right"),
    dict(text="Excited State", x=px(716), y=py(326), xanchor="right"),
]
for a in annotations:
    a.setdefault("xanchor", "center")
    fig.add_annotation(xref="paper", yref="paper", yanchor="middle", showarrow=False, font=FONT, **a)

# legend sample markers
for cy, col in ((34, PURPLE), (326, GREEN)):
    fig.add_shape(type="circle", xref="paper", yref="paper",
                  x0=px(750.8), x1=px(755.2), y0=py(cy + 2.2), y1=py(cy - 2.2),
                  line=dict(color=col, width=1))

fig.write_html("out.html")
